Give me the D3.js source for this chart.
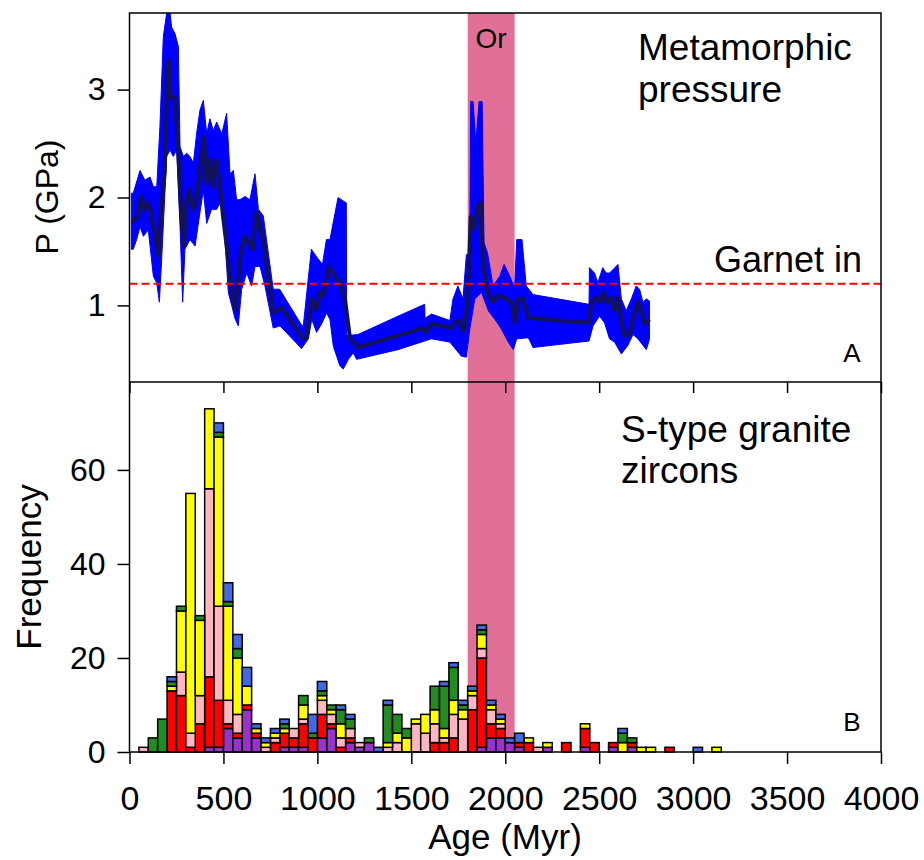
<!DOCTYPE html>
<html>
<head>
<meta charset="utf-8">
<script src="https://cdn.jsdelivr.net/npm/d3@7"></script>
<style>
  body { margin: 0; background: #fff; }
  svg text { font-family: "Liberation Sans", Arial, sans-serif; }
  .tick text { font-size: 32px; fill: #000; }
  .tick line { stroke: #000; stroke-width: 1.5; }
  .xticks .tick text { font-size: 34px; }
</style>
</head>
<body>
<div id="chart-area"></div>
<script>
// ---- panel A: metamorphic pressure (age Myr, P GPa) ----
const meanLine = [[10,1.78],[19,1.78],[45,1.82],[63,2.01],[81,1.89],[98,1.95],[116,1.86],[134,1.67],[155,1.46],[169,1.89],[187,2.23],[201,3.12],[208,3.27],[219,2.93],[240,2.93],[258,2.50],[276,1.82],[290,1.55],[302,1.95],[320,2.07],[338,1.89],[356,1.95],[373,2.23],[397,2.56],[409,2.13],[427,2.35],[444,2.10],[462,2.35],[480,2.13],[498,1.82],[515,1.58],[533,1.30],[551,1.06],[563,0.96],[577,1.21],[595,1.52],[616,1.64],[634,1.58],[657,1.52],[675,1.86],[712,1.61],[765,0.93],[810,0.98],[925,0.69],[943,0.70],[970,1.06],[996,0.96],[1014,1.12],[1032,1.09],[1062,1.36],[1094,1.27],[1120,1.21],[1147,1.06],[1174,0.69],[1190,0.66],[1216,0.61],[1429,0.72],[1562,0.79],[1580,0.75],[1607,0.83],[1713,0.79],[1731,0.84],[1758,0.86],[1775,0.76],[1786,0.81],[1802,1.09],[1816,1.82],[1834,1.70],[1855,1.92],[1870,1.95],[1882,1.39],[1900,1.15],[1935,1.03],[1962,1.09],[1998,1.07],[2034,1.03],[2052,0.84],[2070,1.06],[2096,1.06],[2123,0.89],[2148,0.88],[2446,0.84],[2458,1.03],[2484,1.07],[2502,1.03],[2523,1.12],[2541,1.02],[2564,1.07],[2582,0.95],[2600,1.07],[2618,0.86],[2635,0.72],[2662,0.73],[2680,0.87],[2706,1.03],[2724,0.96],[2742,0.83],[2768,0.87]];

const bandUpper = [[10,2.04],[20,2.04],[56,2.25],[82,2.16],[109,2.19],[127,2.10],[145,2.10],[162,2.66],[180,3.49],[198,3.71],[216,3.71],[224,3.58],[242,3.52],[260,3.40],[269,2.47],[287,2.38],[304,2.41],[322,2.38],[340,2.32],[357,2.59],[375,2.81],[393,2.90],[411,2.59],[428,2.73],[446,2.62],[464,2.70],[491,2.59],[517,2.78],[535,2.22],[553,2.25],[570,1.98],[588,1.98],[615,2.01],[641,1.98],[668,2.22],[686,1.89],[712,1.83],[765,1.15],[799,1.15],[915,0.82],[925,0.81],[968,1.52],[996,1.45],[1027,1.38],[1048,1.61],[1067,1.61],[1110,2.00],[1154,1.95],[1156,0.72],[1216,0.73],[1429,0.90],[1571,1.01],[1573,0.88],[1607,0.92],[1705,0.86],[1722,1.06],[1748,1.18],[1775,1.06],[1793,1.47],[1811,1.47],[1816,2.89],[1829,2.89],[1843,2.50],[1861,2.89],[1877,2.89],[1887,1.58],[1905,1.49],[1935,1.18],[1971,1.27],[1994,1.38],[2024,1.27],[2050,1.16],[2061,1.61],[2089,1.61],[2112,1.18],[2148,1.10],[2446,1.01],[2448,1.35],[2475,1.30],[2493,1.21],[2519,1.35],[2537,1.30],[2555,1.30],[2573,1.33],[2600,1.38],[2618,1.06],[2644,0.95],[2671,1.06],[2697,1.18],[2715,1.15],[2733,1.03],[2751,1.06],[2768,1.04]];

const bandLower = [[10,1.52],[20,1.52],[38,1.61],[56,1.73],[74,1.64],[100,1.70],[127,1.27],[145,1.21],[159,1.03],[171,1.42],[198,2.38],[216,2.44],[233,2.38],[251,2.44],[269,1.73],[283,1.03],[295,1.52],[322,1.61],[349,1.55],[375,1.86],[393,2.07],[411,1.76],[437,1.89],[464,1.89],[491,1.98],[508,1.61],[526,1.12],[544,1.00],[561,0.88],[579,0.81],[597,1.15],[624,1.30],[650,1.18],[668,1.36],[695,1.36],[721,1.18],[765,0.79],[801,0.81],[916,0.60],[952,0.69],[970,0.87],[996,0.75],[1023,0.83],[1049,0.93],[1067,0.87],[1085,0.62],[1120,0.44],[1138,0.41],[1165,0.50],[1191,0.56],[1209,0.50],[1429,0.59],[1607,0.69],[1705,0.66],[1766,0.53],[1793,0.52],[1811,0.78],[1838,1.06],[1874,1.12],[1910,0.95],[1945,0.87],[1980,0.78],[2016,0.66],[2043,0.59],[2061,0.69],[2123,0.70],[2148,0.61],[2446,0.67],[2467,0.81],[2502,0.90],[2528,0.84],[2555,0.69],[2582,0.66],[2618,0.55],[2653,0.63],[2680,0.73],[2706,0.69],[2733,0.63],[2751,0.59],[2768,0.69]];

const garnetIn = 1.2;
const orogeny = [1800, 2050];

// ---- panel B: S-type granite zircon ages, 50 Myr bins ----
const binStart = [0,50,100,150,200,250,300,350,400,450,500,550,600,650,700,750,800,850,900,950,1000,1050,1100,1150,1200,1250,1300,1350,1400,1450,1500,1550,1600,1650,1700,1750,1800,1850,1900,1950,2000,2050,2100,2150,2200,2250,2300,2350,2400,2450,2500,2550,2600,2650,2700,2750,2800,2850,2900,2950,3000,3050,3100];
const purple = [0,0,0,0,0,0,0,0,1,1,5,3,9,3,0,0,1,1,1,0,3,5,0,2,1,2,0,0,0,0,0,0,0,0,0,0,0,1,3,3,2,1,0,0,1,0,0,0,1,0,0,1,0,1,0,0,0,0,0,0,0,0,0];
const red    = [0,0,0,0,13,12,1,6,15,10,1,1,1,1,0,2,3,2,5,3,5,1,1,1,0,0,0,0,0,0,0,0,2,2,3,0,9,19,3,2,0,1,2,0,0,0,2,0,4,2,0,1,0,1,0,0,0,1,0,0,0,0,0];
const pink   = [0,1,0,0,0,5,3,6,40,20,5,4,0,0,1,1,0,2,1,0,3,2,2,2,1,0,0,1,2,0,6,4,4,1,5,7,3,2,3,1,0,0,0,1,0,0,0,0,0,0,0,0,0,0,0,0,0,0,0,0,0,0,0];
const yellow = [0,0,0,0,1,13,51,16,17,36,20,12,4,1,1,1,1,0,3,0,1,1,3,0,0,0,0,1,2,3,1,4,3,2,3,2,1,3,1,1,0,0,1,0,1,0,0,0,1,0,0,0,2,0,1,1,0,0,0,0,0,0,1];
const green  = [0,0,3,7,1,1,0,1,0,1,1,2,0,0,0,0,1,0,2,1,1,1,3,2,0,1,0,8,4,2,0,0,5,9,7,1,0,1,0,0,0,0,0,0,0,0,0,0,0,0,0,0,2,1,0,0,0,0,0,0,0,0,0];
const blue   = [0,0,0,0,1,0,0,0,0,2,4,3,4,1,1,1,1,0,0,4,2,0,1,1,0,0,1,1,0,0,0,0,0,1,1,1,1,1,1,1,1,2,0,0,0,0,0,0,0,0,0,0,1,0,0,0,0,0,0,0,1,0,0];

const seriesKeys = ['purple', 'red', 'pink', 'yellow', 'green', 'blue'];
const seriesColor = {
  purple: '#9932cc', red: '#ff0000', pink: '#ffb6c1',
  yellow: '#ffff00', green: '#228b22', blue: '#4169e1'
};
const ageTicks = [0, 500, 1000, 1500, 2000, 2500, 3000, 3500, 4000];
const pTicks = [1, 2, 3];
const freqTicks = [0, 20, 40, 60];

// ---- layout ----
const left = 129.5, right = 881;
const topA = 13, bottomA = 382, bottomB = 752;

const svg = d3.select('#chart-area').append('svg')
  .attr('width', 924)
  .attr('height', 860);

const x = d3.scaleLinear().domain([0, 4000]).range([left, right]);
const yP = d3.scaleLinear().domain([0.29, 3.71]).range([bottomA, topA]);
const yF = d3.scaleLinear().domain([0, 78.7]).range([bottomB, bottomA]);

svg.append('clipPath').attr('id', 'clipA')
  .append('rect')
  .attr('x', left).attr('y', topA)
  .attr('width', right - left).attr('height', bottomA - topA);

// orogeny band, both panels
svg.append('rect')
  .attr('x', x(orogeny[0]))
  .attr('y', topA)
  .attr('width', x(orogeny[1]) - x(orogeny[0]))
  .attr('height', bottomB - topA)
  .attr('fill', '#e07098');

// panel A
const gA = svg.append('g').attr('clip-path', 'url(#clipA)');

const line = d3.line()
  .x(d => x(d[0]))
  .y(d => yP(d[1]));

gA.append('path')
  .attr('d', line(bandUpper.concat(bandLower.slice().reverse())) + 'Z')
  .attr('fill', '#0000ff')
  .attr('stroke', '#0000ff')
  .attr('stroke-width', 1);

gA.append('path')
  .attr('d', line(meanLine))
  .attr('fill', 'none')
  .attr('stroke', '#121258')
  .attr('stroke-width', 4)
  .attr('stroke-linejoin', 'round');

gA.append('line')
  .attr('x1', left).attr('x2', right)
  .attr('y1', yP(garnetIn)).attr('y2', yP(garnetIn))
  .attr('stroke', '#ff0000')
  .attr('stroke-width', 2)
  .attr('stroke-dasharray', '8,4');

// panel B: stacked histogram
const table = binStart.map((b, i) => ({
  age: b, purple: purple[i], red: red[i], pink: pink[i],
  yellow: yellow[i], green: green[i], blue: blue[i]
}));
const stacked = d3.stack().keys(seriesKeys)(table);

svg.append('g').selectAll('g')
  .data(stacked)
  .enter().append('g')
  .attr('fill', d => seriesColor[d.key])
  .selectAll('rect')
  .data(d => d.filter(s => s[1] > s[0]))
  .enter().append('rect')
  .attr('x', d => x(d.data.age))
  .attr('width', x(50) - x(0))
  .attr('y', d => yF(d[1]))
  .attr('height', d => yF(d[0]) - yF(d[1]))
  .attr('stroke', '#000')
  .attr('stroke-width', 1.5);

// axes
const intFmt = d3.format('d');

svg.append('g')
  .attr('transform', `translate(${left},0)`)
  .call(d3.axisLeft(yP).tickValues(pTicks).tickSize(12).tickPadding(12).tickFormat(intFmt))
  .call(g => g.select('.domain').remove());

svg.append('g')
  .attr('transform', `translate(${left},0)`)
  .call(d3.axisLeft(yF).tickValues(freqTicks).tickSize(12).tickPadding(12).tickFormat(intFmt))
  .call(g => g.select('.domain').remove());

svg.append('g')
  .attr('transform', `translate(0,${bottomA})`)
  .call(d3.axisBottom(x).tickValues(ageTicks).tickSize(11).tickFormat(''))
  .call(g => g.select('.domain').remove());

svg.append('g')
  .attr('class', 'xticks')
  .attr('transform', `translate(0,${bottomB})`)
  .call(d3.axisBottom(x).tickValues(ageTicks).tickSize(12).tickPadding(22).tickFormat(intFmt))
  .call(g => g.select('.domain').remove());

// frame
svg.append('rect')
  .attr('x', left).attr('y', topA)
  .attr('width', right - left).attr('height', bottomB - topA)
  .attr('fill', 'none').attr('stroke', '#000').attr('stroke-width', 1.5);
svg.append('line')
  .attr('x1', left).attr('x2', right)
  .attr('y1', bottomA).attr('y2', bottomA)
  .attr('stroke', '#000').attr('stroke-width', 1.5);

// labels
svg.append('text')
  .attr('transform', 'translate(58,197) rotate(-90)')
  .attr('text-anchor', 'middle')
  .attr('font-size', 32)
  .text('P (GPa)');

svg.append('text')
  .attr('transform', 'translate(41,567) rotate(-90)')
  .attr('text-anchor', 'middle')
  .attr('font-size', 35)
  .text('Frequency');

svg.append('text')
  .attr('x', 505).attr('y', 849)
  .attr('text-anchor', 'middle')
  .attr('font-size', 35)
  .text('Age (Myr)');

const sans = '"Open Sans", "Noto Sans", sans-serif';

svg.append('text')
  .attr('x', 638).attr('y', 60)
  .attr('font-family', sans).attr('font-size', 37)
  .text('Metamorphic');
svg.append('text')
  .attr('x', 638).attr('y', 102)
  .attr('font-family', sans).attr('font-size', 37)
  .text('pressure');

svg.append('text')
  .attr('x', 621).attr('y', 442)
  .attr('font-family', sans).attr('font-size', 37)
  .text('S-type granite');
svg.append('text')
  .attr('x', 621).attr('y', 483)
  .attr('font-family', sans).attr('font-size', 37)
  .text('zircons');

svg.append('text')
  .attr('x', x(1925)).attr('y', 48)
  .attr('text-anchor', 'middle')
  .attr('font-family', sans).attr('font-size', 28)
  .text('Or');

svg.append('text')
  .attr('x', 862).attr('y', 272)
  .attr('text-anchor', 'end')
  .attr('font-size', 36)
  .text('Garnet in');

svg.append('text')
  .attr('x', 852).attr('y', 362)
  .attr('text-anchor', 'middle')
  .attr('font-size', 26)
  .text('A');
svg.append('text')
  .attr('x', 852).attr('y', 731)
  .attr('text-anchor', 'middle')
  .attr('font-size', 26)
  .text('B');
</script>
</body>
</html>
